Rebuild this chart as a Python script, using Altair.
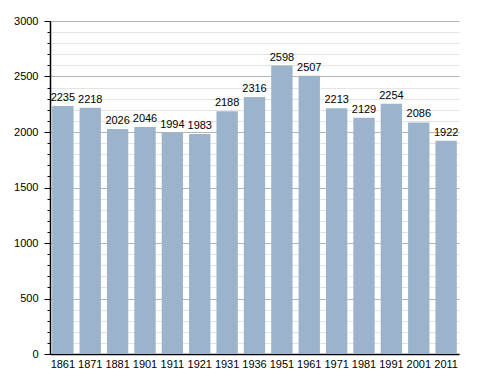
import altair as alt
import pandas as pd

years = ["1861", "1871", "1881", "1901", "1911", "1921", "1931", "1936",
         "1951", "1961", "1971", "1981", "1991", "2001", "2011"]
population = [2235, 2218, 2026, 2046, 1994, 1983, 2188, 2316,
              2598, 2507, 2213, 2129, 2254, 2086, 1922]

df = pd.DataFrame({"year": years, "pop": population})

FONT = "Liberation Sans"
BAR = "#9bb3cb"

minor_vals = list(range(0, 3001, 100))
major_vals = list(range(0, 3001, 500))

xscale = alt.Scale(paddingInner=0.22, paddingOuter=0.08)
x = alt.X("year:N", sort=None, title=None, scale=xscale,
          axis=alt.Axis(labelAngle=0, ticks=False, labelFont=FONT, labelFontSize=11,
                        labelColor="#000", domainColor="#000", labelPadding=4,
                        grid=False))

yscale = alt.Scale(domain=[0, 3000], nice=False)

minor = alt.Chart(df).mark_bar(opacity=0).encode(
    x=x,
    y=alt.Y("pop:Q", scale=yscale, title=None,
            axis=alt.Axis(values=minor_vals, labels=False, grid=True, gridColor="#e4e4e4",
                          tickSize=3, tickColor="#000", domain=False, orient="left")),
)

bars = alt.Chart(df).mark_bar(color=BAR).encode(
    x=x,
    y=alt.Y("pop:Q", scale=yscale, title=None,
            axis=alt.Axis(values=major_vals, grid=True, gridColor="#b4b4b4", format="d",
                          tickSize=6, tickColor="#000", domainColor="#000",
                          labelFont=FONT, labelFontSize=11, labelColor="#000",
                          labelPadding=6, orient="left")),
)

labels = alt.Chart(df).mark_text(baseline="bottom", dy=-3, font=FONT, fontSize=11,
                                 color="#000").encode(
    x=x,
    y=alt.Y("pop:Q", scale=yscale, axis=None),
    text="pop:Q",
)

chart = alt.layer(minor, bars, labels).resolve_axis(y="independent").properties(
    width=409, height=333,
    autosize=alt.AutoSizeParams(type="none"),
    padding={"left": 42, "top": 13, "right": 21, "bottom": 19},
).configure_view(stroke=None).configure_axis(domainWidth=1.5)

chart.save("out.html", embed_options={"renderer": "svg", "actions": False})
